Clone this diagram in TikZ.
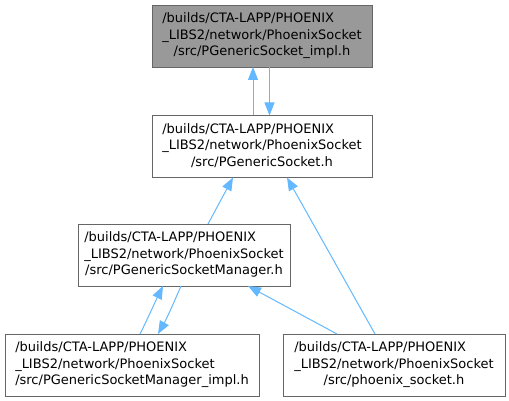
\documentclass[tikz,border=0pt]{standalone}
\usepackage{fontspec}
\setmainfont{DejaVu Sans}
\usetikzlibrary{arrows.meta}
\definecolor{edgeblue}{HTML}{63B8FF}
\definecolor{boxborder}{HTML}{666666}
\definecolor{boxgrey}{HTML}{999999}
\newcommand{\dlabel}[3]{\begin{tabular}{@{}l@{}}#1\\#2\\\multicolumn{1}{@{}c@{}}{#3}\end{tabular}}
\tikzset{
  filebox/.style={draw=boxborder, fill=white, line width=0.8pt, inner sep=0pt, font=\fontsize{13}{16.6}\selectfont},
  curbox/.style={filebox, fill=boxgrey},
  dep/.style={draw=edgeblue, line width=1pt, -{Triangle[length=13pt,width=10pt]}},
}
\begin{document}
\begin{tikzpicture}[x=1pt,y=-1pt]
\useasboundingbox (0,0) rectangle (509,401);
\node[curbox, minimum width=220pt, minimum height=62pt] (impl) at (262,36) {\dlabel{/builds/CTA-LAPP/PHOENIX}{\_LIBS2/network/PhoenixSocket}{/src/PGenericSocket\_impl.h}};
\node[filebox, minimum width=220pt, minimum height=62pt] (gs) at (262,146.5) {\dlabel{/builds/CTA-LAPP/PHOENIX}{\_LIBS2/network/PhoenixSocket}{/src/PGenericSocket.h}};
\node[filebox, minimum width=212pt, minimum height=62pt] (mgr) at (184,255) {\dlabel{/builds/CTA-LAPP/PHOENIX}{\_LIBS2/network/PhoenixSocket}{/src/PGenericSocketManager.h}};
\node[filebox, minimum width=254pt, minimum height=62pt] (mimpl) at (132,365) {\dlabel{/builds/CTA-LAPP/PHOENIX}{\_LIBS2/network/PhoenixSocket}{/src/PGenericSocketManager\_impl.h}};
\node[filebox, minimum width=222pt, minimum height=62pt] (ps) at (394,365) {\dlabel{/builds/CTA-LAPP/PHOENIX}{\_LIBS2/network/PhoenixSocket}{/src/phoenix\_socket.h}};
% edges
\coordinate (gsA) at (253,115.5);
\coordinate (implA) at (253,67);
\draw[dep] (gsA) -- (implA);
\coordinate (implB) at (269.5,67);
\coordinate (gsB) at (269.5,115.5);
\draw[dep] (implB) -- (gsB);
\coordinate (mgrT) at (208,224);
\coordinate (gsBL) at (233,177.5);
\draw[dep] (mgrT) -- (gsBL);
\coordinate (psT1) at (375,334);
\coordinate (gsBR) at (287,177.5);
\draw[dep] (psT1) -- (gsBR);
\coordinate (miT1) at (140,334);
\coordinate (mgrB1) at (163,286);
\draw[dep] (miT1) .. controls (148,318) and (156,300) .. (mgrB1);
\coordinate (mgrB2) at (181,286);
\coordinate (miT2) at (158,334);
\draw[dep] (mgrB2) .. controls (175,300) and (167,318) .. (miT2);
\coordinate (psT2) at (337,334);
\coordinate (mgrBR) at (248,286);
\draw[dep] (psT2) -- (mgrBR);
\end{tikzpicture}
\end{document}
